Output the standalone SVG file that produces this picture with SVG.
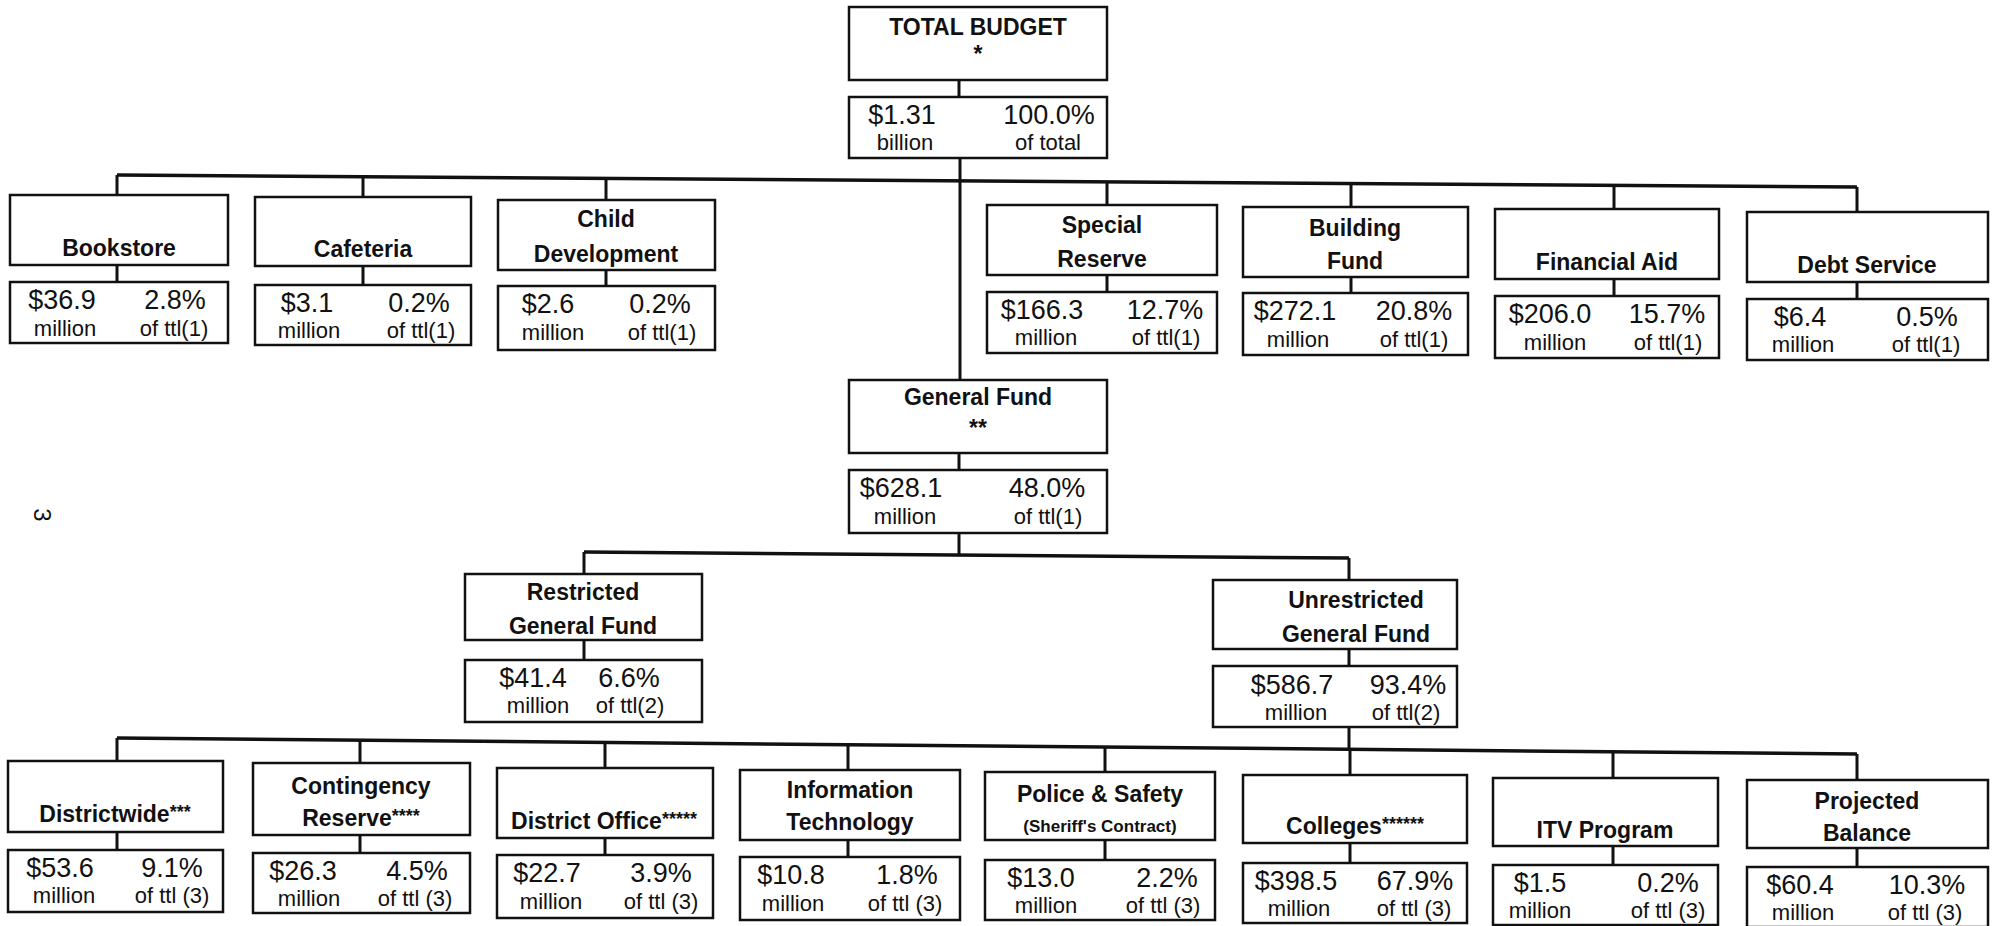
<svg xmlns="http://www.w3.org/2000/svg" width="1993" height="926" viewBox="0 0 1993 926">
<style>
text{font-family:"Liberation Sans",Arial,Helvetica,sans-serif;fill:#111}
.box{fill:#fff;stroke:#111;stroke-width:2.5}
.lbl{font-weight:bold;font-size:23px;text-anchor:middle}
.small{font-weight:bold;font-size:17px;text-anchor:middle}
.num{font-size:27px;text-anchor:middle}
.sub{font-size:22px;text-anchor:middle}
.ast{font-size:18px}
.bus{fill:none;stroke:#111;stroke-width:3.5}
.conn{fill:none;stroke:#111;stroke-width:3}
</style>
<rect width="1993" height="926" fill="#fff"/>
<g id="connectors">
<line class="bus" x1="117" y1="175" x2="1857" y2="187"/>
<line class="conn" x1="960" y1="158" x2="960" y2="380"/>
<line class="conn" x1="959" y1="80" x2="959" y2="97"/>
<line class="conn" x1="117" y1="175" x2="117" y2="195"/>
<line class="conn" x1="117" y1="265" x2="117" y2="282"/>
<line class="conn" x1="363" y1="177" x2="363" y2="197"/>
<line class="conn" x1="363" y1="266" x2="363" y2="285"/>
<line class="conn" x1="606" y1="178" x2="606" y2="200"/>
<line class="conn" x1="606" y1="270" x2="606" y2="286"/>
<line class="conn" x1="1107" y1="182" x2="1107" y2="205"/>
<line class="conn" x1="1107" y1="275" x2="1107" y2="292"/>
<line class="conn" x1="1351" y1="184" x2="1351" y2="207"/>
<line class="conn" x1="1351" y1="277" x2="1351" y2="293"/>
<line class="conn" x1="1614" y1="185" x2="1614" y2="209"/>
<line class="conn" x1="1614" y1="279" x2="1614" y2="296"/>
<line class="conn" x1="1857" y1="187" x2="1857" y2="212"/>
<line class="conn" x1="1857" y1="282" x2="1857" y2="299"/>
<line class="conn" x1="959" y1="453" x2="959" y2="470"/>
<line class="conn" x1="959" y1="533" x2="959" y2="555"/>
<line class="bus" x1="584" y1="552" x2="1349" y2="558"/>
<line class="conn" x1="584" y1="552" x2="584" y2="574"/>
<line class="conn" x1="584" y1="640" x2="584" y2="660"/>
<line class="conn" x1="1349" y1="558" x2="1349" y2="580"/>
<line class="conn" x1="1349" y1="649" x2="1349" y2="666"/>
<line class="conn" x1="1349" y1="727" x2="1349" y2="749"/>
<line class="bus" x1="117" y1="738" x2="1857" y2="754"/>
<line class="conn" x1="117" y1="738" x2="117" y2="761"/>
<line class="conn" x1="117" y1="832" x2="117" y2="850"/>
<line class="conn" x1="360" y1="740" x2="360" y2="763"/>
<line class="conn" x1="360" y1="835" x2="360" y2="853"/>
<line class="conn" x1="605" y1="743" x2="605" y2="768"/>
<line class="conn" x1="605" y1="838" x2="605" y2="855"/>
<line class="conn" x1="848" y1="745" x2="848" y2="770"/>
<line class="conn" x1="848" y1="840" x2="848" y2="857"/>
<line class="conn" x1="1105" y1="747" x2="1105" y2="772"/>
<line class="conn" x1="1105" y1="840" x2="1105" y2="860"/>
<line class="conn" x1="1350" y1="749" x2="1350" y2="775"/>
<line class="conn" x1="1350" y1="843" x2="1350" y2="863"/>
<line class="conn" x1="1613" y1="752" x2="1613" y2="778"/>
<line class="conn" x1="1613" y1="846" x2="1613" y2="865"/>
<line class="conn" x1="1857" y1="754" x2="1857" y2="780"/>
<line class="conn" x1="1857" y1="848" x2="1857" y2="867"/>
</g>
<g id="total">
<rect class="box" x="849" y="7" width="258" height="73"/>
<text class="lbl" x="978" y="35">TOTAL BUDGET</text>
<text class="lbl" x="978" y="62">*</text>
<rect class="box" x="849" y="97" width="258" height="61"/>
<text class="num" x="902" y="124">$1.31</text>
<text class="sub" x="905" y="150">billion</text>
<text class="num" x="1049" y="124">100.0%</text>
<text class="sub" x="1048" y="150">of total</text>
</g>
<g id="bookstore">
<rect class="box" x="10" y="195" width="218" height="70"/>
<text class="lbl" x="119" y="256">Bookstore</text>
<rect class="box" x="10" y="282" width="218" height="61"/>
<text class="num" x="62" y="309">$36.9</text>
<text class="sub" x="65" y="336">million</text>
<text class="num" x="175" y="309">2.8%</text>
<text class="sub" x="174" y="336">of ttl(1)</text>
</g>
<g id="cafeteria">
<rect class="box" x="255" y="197" width="216" height="69"/>
<text class="lbl" x="363" y="257">Cafeteria</text>
<rect class="box" x="255" y="285" width="216" height="60"/>
<text class="num" x="307" y="312">$3.1</text>
<text class="sub" x="309" y="338">million</text>
<text class="num" x="419" y="312">0.2%</text>
<text class="sub" x="421" y="338">of ttl(1)</text>
</g>
<g id="childdev">
<rect class="box" x="498" y="200" width="217" height="70"/>
<text class="lbl" x="606" y="227">Child</text>
<text class="lbl" x="606" y="262">Development</text>
<rect class="box" x="498" y="286" width="217" height="64"/>
<text class="num" x="548" y="313">$2.6</text>
<text class="sub" x="553" y="340">million</text>
<text class="num" x="660" y="313">0.2%</text>
<text class="sub" x="662" y="340">of ttl(1)</text>
</g>
<g id="specialreserve">
<rect class="box" x="987" y="205" width="230" height="70"/>
<text class="lbl" x="1102" y="233">Special</text>
<text class="lbl" x="1102" y="267">Reserve</text>
<rect class="box" x="987" y="292" width="230" height="61"/>
<text class="num" x="1042" y="319">$166.3</text>
<text class="sub" x="1046" y="345">million</text>
<text class="num" x="1165" y="319">12.7%</text>
<text class="sub" x="1166" y="345">of ttl(1)</text>
</g>
<g id="buildingfund">
<rect class="box" x="1243" y="207" width="225" height="70"/>
<text class="lbl" x="1355" y="236">Building</text>
<text class="lbl" x="1355" y="269">Fund</text>
<rect class="box" x="1243" y="293" width="225" height="62"/>
<text class="num" x="1295" y="320">$272.1</text>
<text class="sub" x="1298" y="347">million</text>
<text class="num" x="1414" y="320">20.8%</text>
<text class="sub" x="1414" y="347">of ttl(1)</text>
</g>
<g id="financialaid">
<rect class="box" x="1495" y="209" width="224" height="70"/>
<text class="lbl" x="1607" y="270">Financial Aid</text>
<rect class="box" x="1495" y="296" width="224" height="62"/>
<text class="num" x="1550" y="323">$206.0</text>
<text class="sub" x="1555" y="350">million</text>
<text class="num" x="1667" y="323">15.7%</text>
<text class="sub" x="1668" y="350">of ttl(1)</text>
</g>
<g id="debtservice">
<rect class="box" x="1747" y="212" width="241" height="70"/>
<text class="lbl" x="1867" y="273">Debt Service</text>
<rect class="box" x="1747" y="299" width="241" height="61"/>
<text class="num" x="1800" y="326">$6.4</text>
<text class="sub" x="1803" y="352">million</text>
<text class="num" x="1927" y="326">0.5%</text>
<text class="sub" x="1926" y="352">of ttl(1)</text>
</g>
<g id="generalfund">
<rect class="box" x="849" y="380" width="258" height="73"/>
<text class="lbl" x="978" y="405">General Fund</text>
<text class="lbl" x="978" y="436">**</text>
<rect class="box" x="849" y="470" width="258" height="63"/>
<text class="num" x="901" y="497">$628.1</text>
<text class="sub" x="905" y="524">million</text>
<text class="num" x="1047" y="497">48.0%</text>
<text class="sub" x="1048" y="524">of ttl(1)</text>
</g>
<g id="restricted">
<rect class="box" x="465" y="574" width="237" height="66"/>
<text class="lbl" x="583" y="600">Restricted</text>
<text class="lbl" x="583" y="634">General Fund</text>
<rect class="box" x="465" y="660" width="237" height="62"/>
<text class="num" x="533" y="687">$41.4</text>
<text class="sub" x="538" y="713">million</text>
<text class="num" x="629" y="687">6.6%</text>
<text class="sub" x="630" y="713">of ttl(2)</text>
</g>
<g id="unrestricted">
<rect class="box" x="1213" y="580" width="244" height="69"/>
<text class="lbl" x="1356" y="608">Unrestricted</text>
<text class="lbl" x="1356" y="642">General Fund</text>
<rect class="box" x="1213" y="666" width="244" height="61"/>
<text class="num" x="1292" y="694">$586.7</text>
<text class="sub" x="1296" y="720">million</text>
<text class="num" x="1408" y="694">93.4%</text>
<text class="sub" x="1406" y="720">of ttl(2)</text>
</g>
<g id="districtwide">
<rect class="box" x="8" y="761" width="215" height="71"/>
<text class="lbl" x="115" y="822">Districtwide<tspan class="ast" dy="-4">***</tspan></text>
<rect class="box" x="8" y="850" width="215" height="62"/>
<text class="num" x="60" y="877">$53.6</text>
<text class="sub" x="64" y="903">million</text>
<text class="num" x="172" y="877">9.1%</text>
<text class="sub" x="172" y="903">of ttl (3)</text>
</g>
<g id="contingency">
<rect class="box" x="253" y="763" width="217" height="72"/>
<text class="lbl" x="361" y="794">Contingency</text>
<text class="lbl" x="361" y="826">Reserve<tspan class="ast" dy="-4">****</tspan></text>
<rect class="box" x="253" y="853" width="217" height="60"/>
<text class="num" x="303" y="880">$26.3</text>
<text class="sub" x="309" y="906">million</text>
<text class="num" x="417" y="880">4.5%</text>
<text class="sub" x="415" y="906">of ttl (3)</text>
</g>
<g id="districtoffice">
<rect class="box" x="497" y="768" width="216" height="70"/>
<text class="lbl" x="604" y="829">District Office<tspan class="ast" dy="-4">*****</tspan></text>
<rect class="box" x="497" y="855" width="216" height="63"/>
<text class="num" x="547" y="882">$22.7</text>
<text class="sub" x="551" y="909">million</text>
<text class="num" x="661" y="882">3.9%</text>
<text class="sub" x="661" y="909">of ttl (3)</text>
</g>
<g id="infotech">
<rect class="box" x="740" y="770" width="220" height="70"/>
<text class="lbl" x="850" y="798">Information</text>
<text class="lbl" x="850" y="830">Technology</text>
<rect class="box" x="740" y="857" width="220" height="63"/>
<text class="num" x="791" y="884">$10.8</text>
<text class="sub" x="793" y="911">million</text>
<text class="num" x="907" y="884">1.8%</text>
<text class="sub" x="905" y="911">of ttl (3)</text>
</g>
<g id="police">
<rect class="box" x="985" y="772" width="230" height="68"/>
<text class="lbl" x="1100" y="802">Police &amp; Safety</text>
<text class="small" x="1100" y="832">(Sheriff's Contract)</text>
<rect class="box" x="985" y="860" width="230" height="60"/>
<text class="num" x="1041" y="887">$13.0</text>
<text class="sub" x="1046" y="913">million</text>
<text class="num" x="1167" y="887">2.2%</text>
<text class="sub" x="1163" y="913">of ttl (3)</text>
</g>
<g id="colleges">
<rect class="box" x="1243" y="775" width="224" height="68"/>
<text class="lbl" x="1355" y="834">Colleges<tspan class="ast" dy="-4">******</tspan></text>
<rect class="box" x="1243" y="863" width="224" height="60"/>
<text class="num" x="1296" y="890">$398.5</text>
<text class="sub" x="1299" y="916">million</text>
<text class="num" x="1415" y="890">67.9%</text>
<text class="sub" x="1414" y="916">of ttl (3)</text>
</g>
<g id="itv">
<rect class="box" x="1493" y="778" width="225" height="68"/>
<text class="lbl" x="1605" y="838">ITV Program</text>
<rect class="box" x="1493" y="865" width="225" height="60"/>
<text class="num" x="1540" y="892">$1.5</text>
<text class="sub" x="1540" y="918">million</text>
<text class="num" x="1668" y="892">0.2%</text>
<text class="sub" x="1668" y="918">of ttl (3)</text>
</g>
<g id="projected">
<rect class="box" x="1747" y="780" width="241" height="68"/>
<text class="lbl" x="1867" y="809">Projected</text>
<text class="lbl" x="1867" y="841">Balance</text>
<rect class="box" x="1747" y="867" width="241" height="60"/>
<text class="num" x="1800" y="894">$60.4</text>
<text class="sub" x="1803" y="920">million</text>
<text class="num" x="1927" y="894">10.3%</text>
<text class="sub" x="1925" y="920">of ttl (3)</text>
</g>
<text transform="translate(34,515) rotate(90)" font-size="24" text-anchor="middle">3</text>
</svg>
